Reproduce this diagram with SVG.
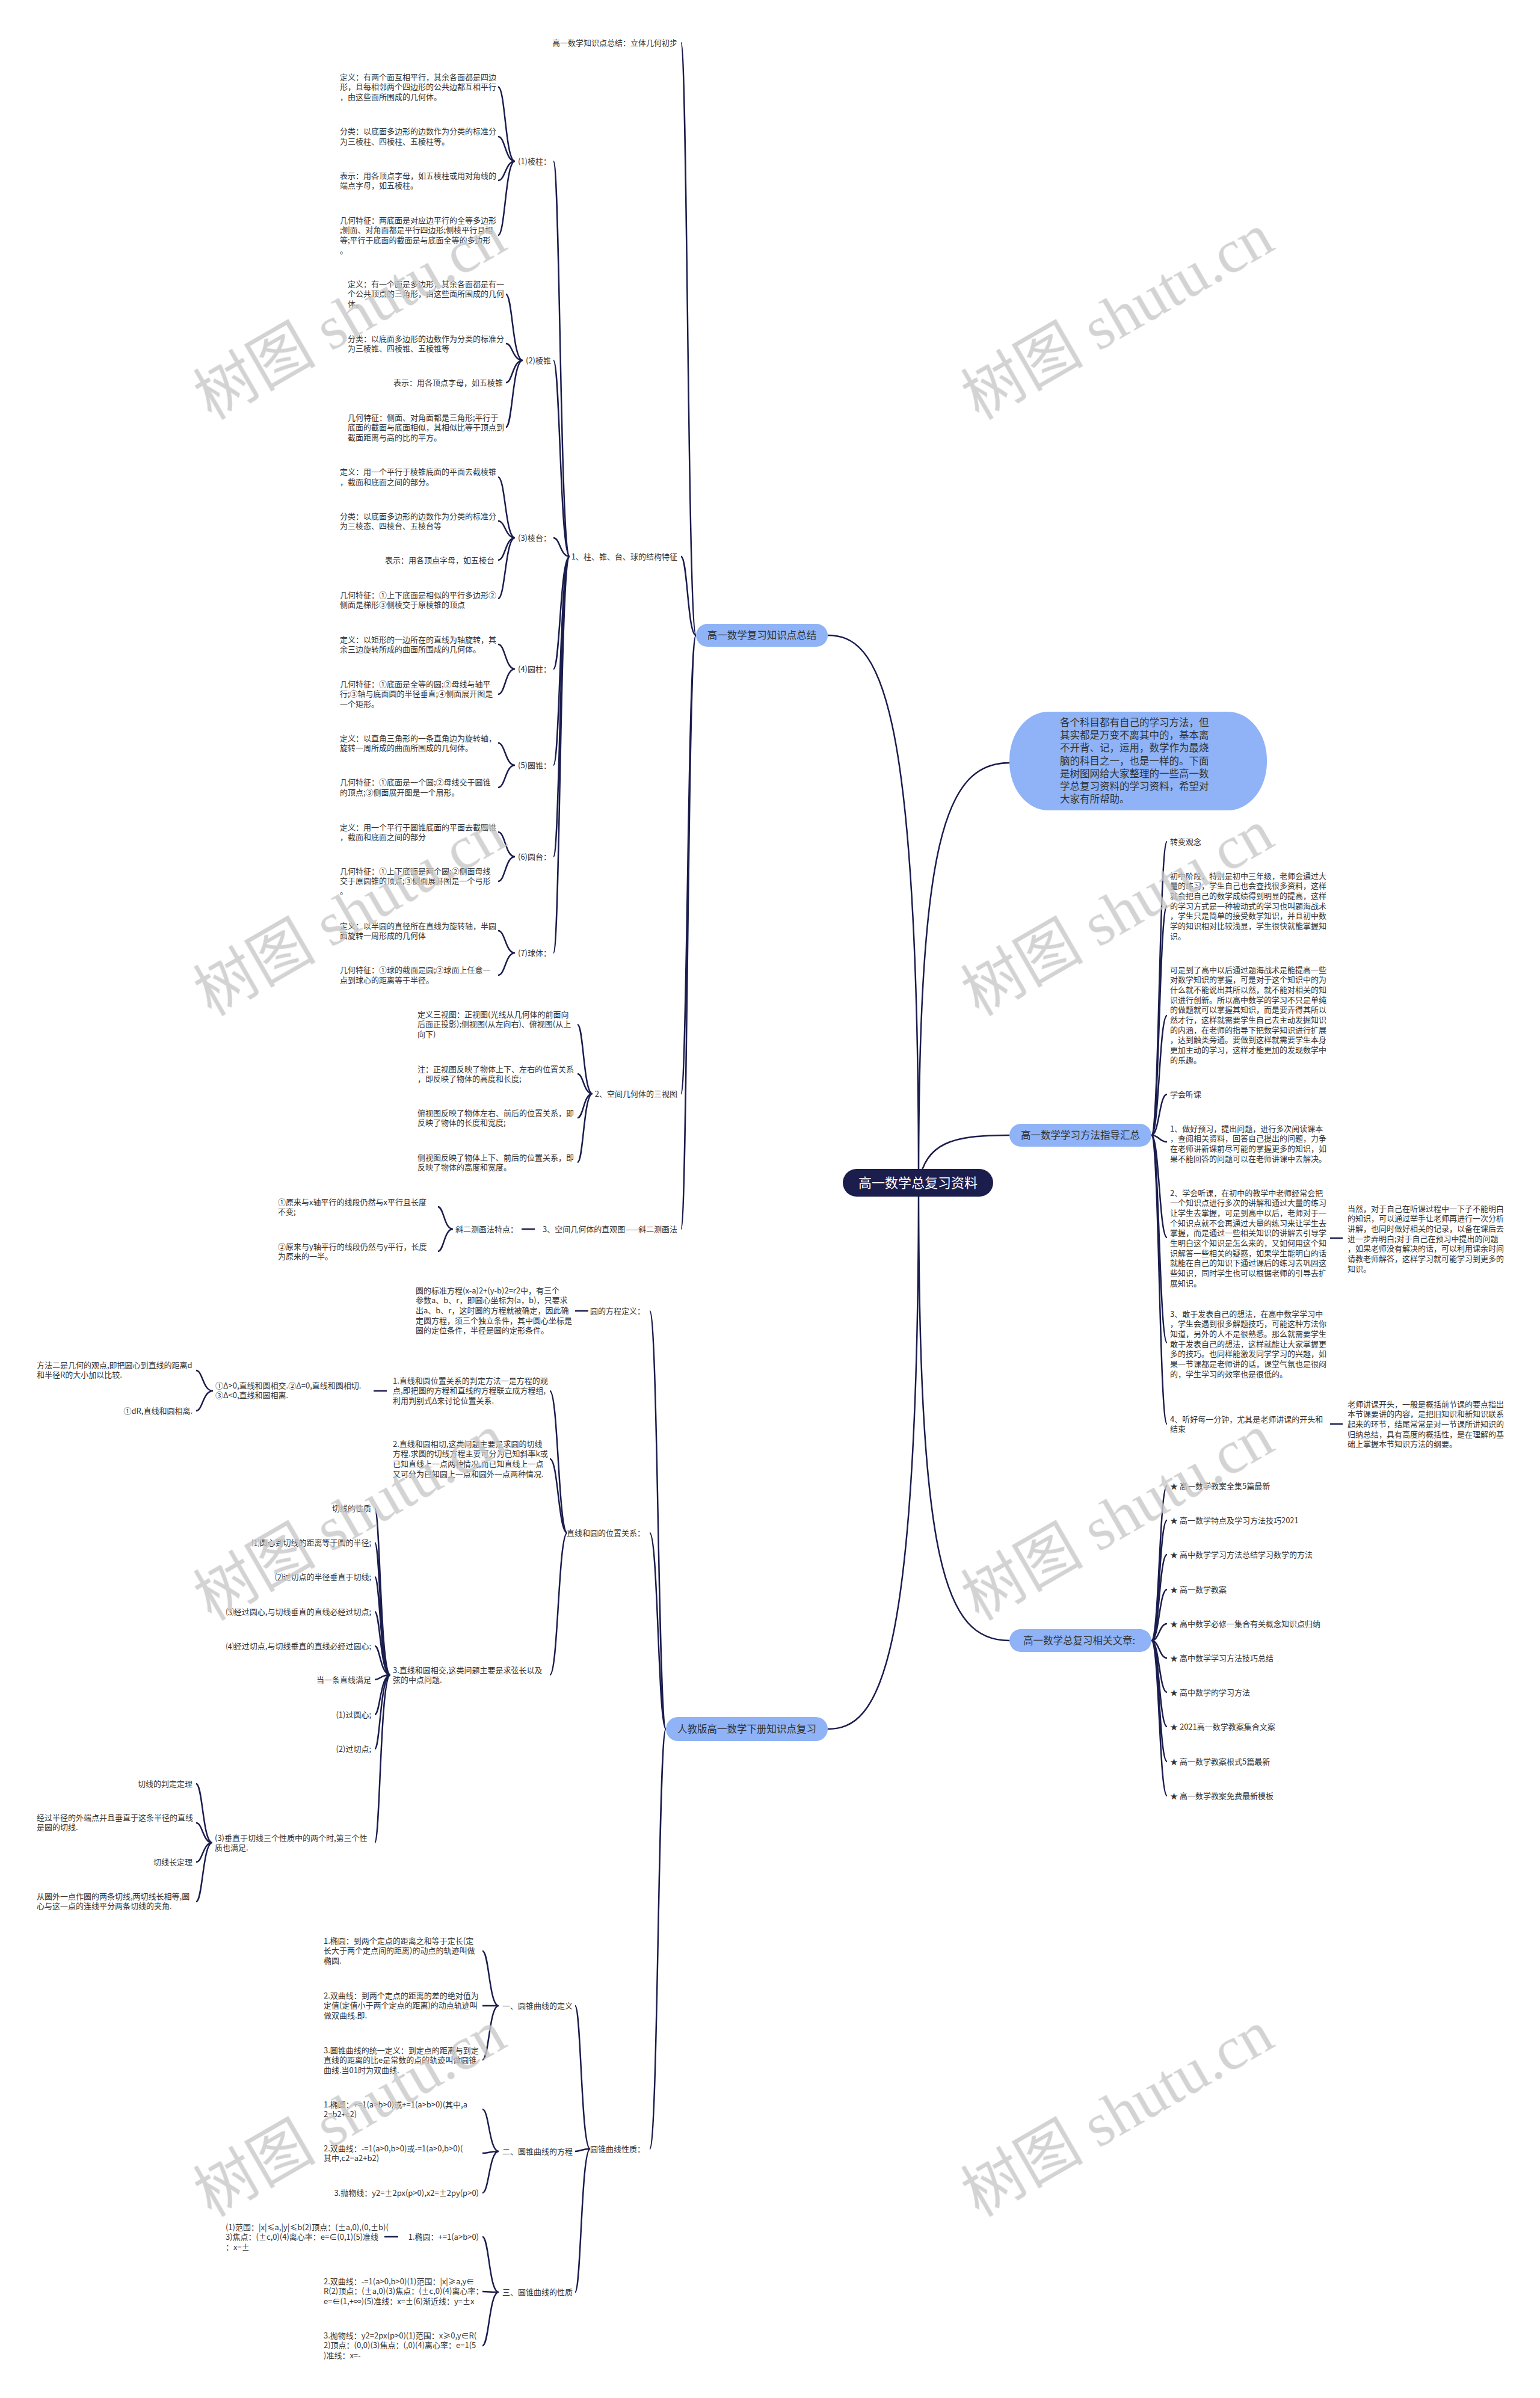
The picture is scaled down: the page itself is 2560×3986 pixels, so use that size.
<svg xmlns="http://www.w3.org/2000/svg" width="2560" height="3986" viewBox="0 0 2560 3986">
<style>
.t{font-family:"Noto Sans CJK SC","Liberation Sans",sans-serif;font-size:13px;fill:#333}
.e{text-anchor:end}
.m{text-anchor:middle}
.b{font-size:16.5px}
.c{fill:none;stroke:#1b1d4d;stroke-width:2.5}
.n{fill:#8fb3f6}
.wm{font-family:"Liberation Serif","Noto Sans CJK SC",serif;font-size:102px;fill:#c9c9c9;opacity:0.8}
</style>
<rect width="2560" height="3986" fill="#ffffff"/>
<g id="connectors" class="c">
<path d="M1527 1966C1527 1150 1460 1056 1376 1056M1527 1966C1527 2780 1460 2874 1376 2874M1527 1966C1527 1400 1570 1268 1678 1268M1527 1966C1540 1900 1580 1887 1678 1887M1527 1966C1527 2600 1570 2727 1678 2727"/>
<path d="M1157 1056C1143 1056 1143 71 1132 71M1157 1056C1143 1056 1143 925 1132 925M1157 1056C1143 1056 1143 1818 1132 1818M1157 1056C1143 1056 1143 2043 1132 2043"/>
<path d="M947 925C931 925 931 268 920 268M947 925C931 925 931 599 920 599M947 925C931 925 931 894 920 894M947 925C931 925 931 1112 920 1112M947 925C931 925 931 1272 920 1272M947 925C931 925 931 1424 920 1424M947 925C931 925 931 1584 920 1584"/>
<path d="M856 268C840 268 840 144.5 828 144.5M856 268C840 268 840 227 828 227M856 268C840 268 840 300 828 300M856 268C840 268 840 391 828 391"/>
<path d="M869 599C852 599 852 489 841 489M869 599C852 599 852 571 841 571M869 599C852 599 852 636 841 636M869 599C852 599 852 710 841 710"/>
<path d="M856 894C840 894 840 793 828 793M856 894C840 894 840 866 828 866M856 894C840 894 840 931 828 931M856 894C840 894 840 995 828 995"/>
<path d="M856 1112C840 1112 840 1071 828 1071M856 1112C840 1112 840 1154 828 1154"/>
<path d="M856 1272C840 1272 840 1235 828 1235M856 1272C840 1272 840 1309 828 1309"/>
<path d="M856 1424C840 1424 840 1383 828 1383M856 1424C840 1424 840 1465 828 1465"/>
<path d="M856 1584C840 1584 840 1547 828 1547M856 1584C840 1584 840 1621 828 1621"/>
<path d="M985 1818C970 1818 970 1703 960 1703M985 1818C970 1818 970 1785 960 1785M985 1818C970 1818 970 1858 960 1858M985 1818C970 1818 970 1932 960 1932"/>
<path d="M889 2043H867M753 2043C738 2043 738 2006 728 2006M753 2043C738 2043 738 2080 728 2080"/>
<path d="M1107 2874C1094 2874 1094 2179 1080 2179M1107 2874C1094 2874 1094 2548 1080 2548M1107 2874C1094 2874 1094 3572 1080 3572"/>
<path d="M978 2179H956"/>
<path d="M943 2548C928 2548 928 2312 914 2312M943 2548C928 2548 928 2425 914 2425M943 2548C928 2548 928 2784 914 2784"/>
<path d="M643 2312H621M354 2312C337 2312 337 2278 326 2278M354 2312C337 2312 337 2345 326 2345"/>
<path d="M649 2784C632 2784 632 2507 623 2507M649 2784C632 2784 632 2564 623 2564M649 2784C632 2784 632 2621 623 2621M649 2784C632 2784 632 2679 623 2679M649 2784C632 2784 632 2736 623 2736M649 2784C632 2784 632 2792 623 2792M649 2784C632 2784 632 2850 623 2850M649 2784C632 2784 632 2907 623 2907M649 2784C632 2784 632 3063 623 3063"/>
<path d="M353 3063C337 3063 337 2965 326 2965M353 3063C337 3063 337 3030 326 3030M353 3063C337 3063 337 3095 326 3095M353 3063C337 3063 337 3161 326 3161"/>
<path d="M981 3572C966 3572 966 3334 956 3334M981 3572C966 3572 966 3576 956 3576M981 3572C966 3572 966 3810 956 3810"/>
<path d="M829 3334C813 3334 813 3243 802 3243M829 3334C813 3334 813 3334 802 3334M829 3334C813 3334 813 3424 802 3424"/>
<path d="M829 3576C813 3576 813 3506 802 3506M829 3576C813 3576 813 3579 802 3579M829 3576C813 3576 813 3645 802 3645"/>
<path d="M829 3810C813 3810 813 3718 802 3718M829 3810C813 3810 813 3809 802 3809M829 3810C813 3810 813 3899 802 3899M662 3718H639"/>
<path d="M1914 1887C1927 1887 1927 1399 1940 1399M1914 1887C1927 1887 1927 1506 1940 1506M1914 1887C1927 1887 1927 1688 1940 1688M1914 1887C1927 1887 1927 1819 1940 1819M1914 1887C1927 1887 1927 1898 1940 1898M1914 1887C1927 1887 1927 2057 1940 2057M1914 1887C1927 1887 1927 2232 1940 2232M1914 1887C1927 1887 1927 2367 1940 2367"/>
<path d="M2211 2058H2232M2211 2367H2232"/>
<path d="M1914 2727C1927 2727 1927 2470 1940 2470M1914 2727C1927 2727 1927 2527 1940 2527M1914 2727C1927 2727 1927 2584 1940 2584M1914 2727C1927 2727 1927 2642 1940 2642M1914 2727C1927 2727 1927 2699 1940 2699M1914 2727C1927 2727 1927 2756 1940 2756M1914 2727C1927 2727 1927 2813 1940 2813M1914 2727C1927 2727 1927 2870 1940 2870M1914 2727C1927 2727 1927 2928 1940 2928M1914 2727C1927 2727 1927 2985 1940 2985"/>
</g>

<g id="root"><rect x="1401" y="1943" width="250" height="46" rx="23" fill="#1b1d4d"/><text class="t m" x="1526" y="1974" style="font-size:22px;fill:#ffffff">高一数学总复习资料</text></g>
<g id="b1"><rect class="n" x="1157" y="1037" width="219" height="38" rx="19"/><text class="t b m" x="1266.5" y="1062">高一数学复习知识点总结</text></g>
<g id="b2"><rect class="n" x="1107" y="2854" width="269" height="40" rx="20"/><text class="t b m" x="1241.5" y="2880">人教版高一数学下册知识点复习</text></g>
<g id="intro"><rect class="n" x="1678" y="1183" width="428" height="164" rx="65" ry="80"/><text class="t b" x="1762" y="1207"><tspan x="1762">各个科目都有自己的学习方法，但</tspan><tspan x="1762" dy="21.2">其实都是万变不离其中的，基本离</tspan><tspan x="1762" dy="21.2">不开背、记，运用，数学作为最烧</tspan><tspan x="1762" dy="21.2">脑的科目之一，也是一样的。下面</tspan><tspan x="1762" dy="21.2">是树图网给大家整理的一些高一数</tspan><tspan x="1762" dy="21.2">学总复习资料的学习资料，希望对</tspan><tspan x="1762" dy="21.2">大家有所帮助。</tspan></text></g>
<g id="b3"><rect class="n" x="1678" y="1868" width="236" height="38" rx="19"/><text class="t b m" x="1796" y="1893">高一数学学习方法指导汇总</text></g>
<g id="b4"><rect class="n" x="1678" y="2708" width="236" height="38" rx="19"/><text class="t b m" x="1794" y="2733">高一数学总复习相关文章:</text></g>

<g id="n1a"><text class="t e" x="1126" y="75.5">高一数学知识点总结：立体几何初步</text></g>
<g id="n1b"><text class="t e" x="1126" y="929.5">1、柱、锥、台、球的结构特征</text></g>
<g id="n1c"><text class="t e" x="1126" y="1822.5">2、空间几何体的三视图</text></g>
<g id="n1d"><text class="t e" x="1126" y="2047.5">3、空间几何体的直观图——斜二测画法</text></g>

<g id="p1"><text class="t e" x="916" y="272.5">(1)棱柱：</text></g>
<g id="p2"><text class="t e" x="916" y="603.5">(2)棱锥</text></g>
<g id="p3"><text class="t e" x="916" y="898.5">(3)棱台：</text></g>
<g id="p4"><text class="t e" x="916" y="1116.5">(4)圆柱：</text></g>
<g id="p5"><text class="t e" x="916" y="1276.5">(5)圆锥：</text></g>
<g id="p6"><text class="t e" x="916" y="1428.5">(6)圆台：</text></g>
<g id="p7"><text class="t e" x="916" y="1588.5">(7)球体：</text></g>

<g id="a1"><text class="t" x="565" y="132.5"><tspan x="565">定义：有两个面互相平行，其余各面都是四边</tspan><tspan x="565" dy="16.7">形，且每相邻两个四边形的公共边都互相平行</tspan><tspan x="565" dy="16.7">，由这些面所围成的几何体。</tspan></text></g>
<g id="a2"><text class="t" x="565" y="223"><tspan x="565">分类：以底面多边形的边数作为分类的标准分</tspan><tspan x="565" dy="16.7">为三棱柱、四棱柱、五棱柱等。</tspan></text></g>
<g id="a3"><text class="t" x="565" y="296.5"><tspan x="565">表示：用各顶点字母，如五棱柱或用对角线的</tspan><tspan x="565" dy="16.7">端点字母，如五棱柱。</tspan></text></g>
<g id="a4"><text class="t" x="565" y="370.5"><tspan x="565">几何特征：两底面是对应边平行的全等多边形</tspan><tspan x="565" dy="16.7">;侧面、对角面都是平行四边形;侧棱平行且相</tspan><tspan x="565" dy="16.7">等;平行于底面的截面是与底面全等的多边形</tspan><tspan x="565" dy="16.7">。</tspan></text></g>

<g id="c1"><text class="t" x="578" y="476.5"><tspan x="578">定义：有一个面是多边形，其余各面都是有一</tspan><tspan x="578" dy="16.7">个公共顶点的三角形，由这些面所围成的几何</tspan><tspan x="578" dy="16.7">体。</tspan></text></g>
<g id="c2"><text class="t" x="578" y="567.5"><tspan x="578">分类：以底面多边形的边数作为分类的标准分</tspan><tspan x="578" dy="16.7">为三棱锥、四棱锥、五棱锥等</tspan></text></g>
<g id="c3"><text class="t e" x="836" y="640.5">表示：用各顶点字母，如五棱锥</text></g>
<g id="c4"><text class="t" x="578" y="698.5"><tspan x="578">几何特征：侧面、对角面都是三角形;平行于</tspan><tspan x="578" dy="16.7">底面的截面与底面相似，其相似比等于顶点到</tspan><tspan x="578" dy="16.7">截面距离与高的比的平方。</tspan></text></g>

<g id="d1"><text class="t" x="565" y="789"><tspan x="565">定义：用一个平行于棱锥底面的平面去截棱锥</tspan><tspan x="565" dy="16.7">，截面和底面之间的部分。</tspan></text></g>
<g id="d2"><text class="t" x="565" y="862.5"><tspan x="565">分类：以底面多边形的边数作为分类的标准分</tspan><tspan x="565" dy="16.7">为三棱态、四棱台、五棱台等</tspan></text></g>
<g id="d3"><text class="t e" x="822" y="935.5">表示：用各顶点字母，如五棱台</text></g>
<g id="d4"><text class="t" x="565" y="993.5"><tspan x="565">几何特征：①上下底面是相似的平行多边形②</tspan><tspan x="565" dy="16.7">侧面是梯形③侧棱交于原棱锥的顶点</tspan></text></g>

<g id="e1"><text class="t" x="565" y="1067.5"><tspan x="565">定义：以矩形的一边所在的直线为轴旋转，其</tspan><tspan x="565" dy="16.7">余三边旋转所成的曲面所围成的几何体。</tspan></text></g>
<g id="e2"><text class="t" x="565" y="1141.5"><tspan x="565">几何特征：①底面是全等的圆;②母线与轴平</tspan><tspan x="565" dy="16.7">行;③轴与底面圆的半径垂直;④侧面展开图是</tspan><tspan x="565" dy="16.7">一个矩形。</tspan></text></g>
<g id="f1"><text class="t" x="565" y="1231.5"><tspan x="565">定义：以直角三角形的一条直角边为旋转轴，</tspan><tspan x="565" dy="16.7">旋转一周所成的曲面所围成的几何体。</tspan></text></g>
<g id="f2"><text class="t" x="565" y="1305"><tspan x="565">几何特征：①底面是一个圆;②母线交于圆锥</tspan><tspan x="565" dy="16.7">的顶点;③侧面展开图是一个扇形。</tspan></text></g>
<g id="g1"><text class="t" x="565" y="1379.5"><tspan x="565">定义：用一个平行于圆锥底面的平面去截圆锥</tspan><tspan x="565" dy="16.7">，截面和底面之间的部分</tspan></text></g>
<g id="g2"><text class="t" x="565" y="1452.5"><tspan x="565">几何特征：①上下底面是两个圆;②侧面母线</tspan><tspan x="565" dy="16.7">交于原圆锥的顶点;③侧面展开图是一个弓形</tspan><tspan x="565" dy="16.7">。</tspan></text></g>
<g id="h1"><text class="t" x="565" y="1543.5"><tspan x="565">定义：以半圆的直径所在直线为旋转轴，半圆</tspan><tspan x="565" dy="16.7">面旋转一周形成的几何体</tspan></text></g>
<g id="h2"><text class="t" x="565" y="1617"><tspan x="565">几何特征：①球的截面是圆;②球面上任意一</tspan><tspan x="565" dy="16.7">点到球心的距离等于半径。</tspan></text></g>

<g id="s1"><text class="t" x="694" y="1690.5"><tspan x="694">定义三视图：正视图(光线从几何体的前面向</tspan><tspan x="694" dy="16.7">后面正投影);侧视图(从左向右)、俯视图(从上</tspan><tspan x="694" dy="16.7">向下)</tspan></text></g>
<g id="s2"><text class="t" x="694" y="1781.5"><tspan x="694">注：正视图反映了物体上下、左右的位置关系</tspan><tspan x="694" dy="16.7">，即反映了物体的高度和长度;</tspan></text></g>
<g id="s3"><text class="t" x="694" y="1854.5"><tspan x="694">俯视图反映了物体左右、前后的位置关系，即</tspan><tspan x="694" dy="16.7">反映了物体的长度和宽度;</tspan></text></g>
<g id="s4"><text class="t" x="694" y="1928.5"><tspan x="694">侧视图反映了物体上下、前后的位置关系，即</tspan><tspan x="694" dy="16.7">反映了物体的高度和宽度。</tspan></text></g>

<g id="x0"><text class="t e" x="861" y="2047.5">斜二测画法特点：</text></g>
<g id="x1"><text class="t" x="462" y="2002.5"><tspan x="462">①原来与x轴平行的线段仍然与x平行且长度</tspan><tspan x="462" dy="16.7">不变;</tspan></text></g>
<g id="x2"><text class="t" x="462" y="2076.5"><tspan x="462">②原来与y轴平行的线段仍然与y平行，长度</tspan><tspan x="462" dy="16.7">为原来的一半。</tspan></text></g>

<g id="q1"><text class="t e" x="1072" y="2183.5">圆的方程定义：</text></g>
<g id="q2"><text class="t e" x="1072" y="2552.5">直线和圆的位置关系：</text></g>
<g id="q3"><text class="t e" x="1072" y="3576.5">圆锥曲线性质：</text></g>
<g id="q1a"><text class="t" x="691" y="2149.5"><tspan x="691">圆的标准方程(x-a)2+(y-b)2=r2中，有三个</tspan><tspan x="691" dy="16.7">参数a、b、r，即圆心坐标为(a，b)，只要求</tspan><tspan x="691" dy="16.7">出a、b、r，这时圆的方程就被确定，因此确</tspan><tspan x="691" dy="16.7">定圆方程，须三个独立条件，其中圆心坐标是</tspan><tspan x="691" dy="16.7">圆的定位条件，半径是圆的定形条件。</tspan></text></g>

<g id="j1"><text class="t" x="653" y="2299.5"><tspan x="653">1.直线和圆位置关系的判定方法一是方程的观</tspan><tspan x="653" dy="16.7">点,即把圆的方程和直线的方程联立成方程组,</tspan><tspan x="653" dy="16.7">利用判别式Δ来讨论位置关系.</tspan></text></g>
<g id="j2"><text class="t" x="653" y="2404.5"><tspan x="653">2.直线和圆相切,这类问题主要是求圆的切线</tspan><tspan x="653" dy="16.7">方程.求圆的切线方程主要可分为已知斜率k或</tspan><tspan x="653" dy="16.7">已知直线上一点两种情况,而已知直线上一点</tspan><tspan x="653" dy="16.7">又可分为已知圆上一点和圆外一点两种情况.</tspan></text></g>
<g id="j3"><text class="t" x="653" y="2780.5"><tspan x="653">3.直线和圆相交,这类问题主要是求弦长以及</tspan><tspan x="653" dy="16.7">弦的中点问题.</tspan></text></g>
<g id="k0"><text class="t" x="358" y="2307.5"><tspan x="358">①Δ&gt;0,直线和圆相交.②Δ=0,直线和圆相切.</tspan><tspan x="358" dy="16.7">③Δ&lt;0,直线和圆相离.</tspan></text></g>
<g id="k1"><text class="t" x="61" y="2273.5"><tspan x="61">方法二是几何的观点,即把圆心到直线的距离d</tspan><tspan x="61" dy="16.7">和半径R的大小加以比较.</tspan></text></g>
<g id="k2"><text class="t e" x="320" y="2349.5">①dR,直线和圆相离.</text></g>

<g id="l1"><text class="t e" x="617" y="2511.5">切线的性质</text></g>
<g id="l2"><text class="t e" x="617" y="2568.5">⑴圆心到切线的距离等于圆的半径;</text></g>
<g id="l3"><text class="t e" x="617" y="2625.5">⑵过切点的半径垂直于切线;</text></g>
<g id="l4"><text class="t e" x="617" y="2683.5">⑶经过圆心,与切线垂直的直线必经过切点;</text></g>
<g id="l5"><text class="t e" x="617" y="2740.5">⑷经过切点,与切线垂直的直线必经过圆心;</text></g>
<g id="l6"><text class="t e" x="617" y="2796.5">当一条直线满足</text></g>
<g id="l7"><text class="t e" x="617" y="2854.5">(1)过圆心;</text></g>
<g id="l8"><text class="t e" x="617" y="2911.5">(2)过切点;</text></g>
<g id="l9"><text class="t" x="357" y="3059.5"><tspan x="357">(3)垂直于切线三个性质中的两个时,第三个性</tspan><tspan x="357" dy="16.7">质也满足.</tspan></text></g>
<g id="m1"><text class="t e" x="320" y="2969.5">切线的判定定理</text></g>
<g id="m2"><text class="t" x="61" y="3025.5"><tspan x="61">经过半径的外端点并且垂直于这条半径的直线</tspan><tspan x="61" dy="16.7">是圆的切线.</tspan></text></g>
<g id="m3"><text class="t e" x="320" y="3099.5">切线长定理</text></g>
<g id="m4"><text class="t" x="61" y="3156.5"><tspan x="61">从圆外一点作圆的两条切线,两切线长相等,圆</tspan><tspan x="61" dy="16.7">心与这一点的连线平分两条切线的夹角.</tspan></text></g>

<g id="r1"><text class="t e" x="952" y="3338.5">一、圆锥曲线的定义</text></g>
<g id="r2"><text class="t e" x="952" y="3580.5">二、圆锥曲线的方程</text></g>
<g id="r3"><text class="t e" x="952" y="3814.5">三、圆锥曲线的性质</text></g>
<g id="u1"><text class="t" x="538" y="3230.5"><tspan x="538">1.椭圆：到两个定点的距离之和等于定长(定</tspan><tspan x="538" dy="16.7">长大于两个定点间的距离)的动点的轨迹叫做</tspan><tspan x="538" dy="16.7">椭圆.</tspan></text></g>
<g id="u2"><text class="t" x="538" y="3321.5"><tspan x="538">2.双曲线：到两个定点的距离的差的绝对值为</tspan><tspan x="538" dy="16.7">定值(定值小于两个定点的距离)的动点轨迹叫</tspan><tspan x="538" dy="16.7">做双曲线.即.</tspan></text></g>
<g id="u3"><text class="t" x="538" y="3412.5"><tspan x="538">3.圆锥曲线的统一定义：到定点的距离与到定</tspan><tspan x="538" dy="16.7">直线的距离的比e是常数的点的轨迹叫做圆锥</tspan><tspan x="538" dy="16.7">曲线.当01时为双曲线.</tspan></text></g>
<g id="v1"><text class="t" x="538" y="3502.5"><tspan x="538">1.椭圆：+=1(a&gt;b&gt;0)或+=1(a&gt;b&gt;0)(其中,a</tspan><tspan x="538" dy="16.7">2=b2+c2)</tspan></text></g>
<g id="v2"><text class="t" x="538" y="3575.5"><tspan x="538">2.双曲线：-=1(a&gt;0,b&gt;0)或-=1(a&gt;0,b&gt;0)(</tspan><tspan x="538" dy="16.7">其中,c2=a2+b2)</tspan></text></g>
<g id="v3"><text class="t e" x="796" y="3649.5">3.抛物线：y2=±2px(p&gt;0),x2=±2py(p&gt;0)</text></g>
<g id="w1"><text class="t e" x="796" y="3722.5">1.椭圆：+=1(a&gt;b&gt;0)</text></g>
<g id="w2"><text class="t" x="538" y="3796.5"><tspan x="538">2.双曲线：-=1(a&gt;0,b&gt;0)(1)范围：|x|≥a,y∈</tspan><tspan x="538" dy="16.7">R(2)顶点：(±a,0)(3)焦点：(±c,0)(4)离心率：</tspan><tspan x="538" dy="16.7">e=∈(1,+∞)(5)准线：x=±(6)渐近线：y=±x</tspan></text></g>
<g id="w3"><text class="t" x="538" y="3886.5"><tspan x="538">3.抛物线：y2=2px(p&gt;0)(1)范围：x≥0,y∈R(</tspan><tspan x="538" dy="16.7">2)顶点：(0,0)(3)焦点：(,0)(4)离心率：e=1(5</tspan><tspan x="538" dy="16.7">)准线：x=-</tspan></text></g>
<g id="w1a"><text class="t" x="375" y="3706.5"><tspan x="375">(1)范围：|x|≤a,|y|≤b(2)顶点：(±a,0),(0,±b)(</tspan><tspan x="375" dy="16.7">3)焦点：(±c,0)(4)离心率：e=∈(0,1)(5)准线</tspan><tspan x="375" dy="16.7">：x=±</tspan></text></g>

<g id="y1"><text class="t" x="1945" y="1403.5">转变观念</text></g>
<g id="y2"><text class="t" x="1945" y="1460.5"><tspan x="1945">初中阶段，特别是初中三年级，老师会通过大</tspan><tspan x="1945" dy="16.7">量的练习，学生自己也会查找很多资料，这样</tspan><tspan x="1945" dy="16.7">就会把自己的数学成绩得到明显的提高，这样</tspan><tspan x="1945" dy="16.7">的学习方式是一种被动式的学习也叫题海战术</tspan><tspan x="1945" dy="16.7">，学生只是简单的接受数学知识，并且初中数</tspan><tspan x="1945" dy="16.7">学的知识相对比较浅显，学生很快就能掌握知</tspan><tspan x="1945" dy="16.7">识。</tspan></text></g>
<g id="y3"><text class="t" x="1945" y="1616.5"><tspan x="1945">可是到了高中以后通过题海战术是能提高一些</tspan><tspan x="1945" dy="16.7">对数学知识的掌握，可是对于这个知识中的为</tspan><tspan x="1945" dy="16.7">什么就不能说出其所以然，就不能对相关的知</tspan><tspan x="1945" dy="16.7">识进行创新。所以高中数学的学习不只是单纯</tspan><tspan x="1945" dy="16.7">的做题就可以掌握其知识，而是要弄得其所以</tspan><tspan x="1945" dy="16.7">然才行，这样就需要学生自己去主动发掘知识</tspan><tspan x="1945" dy="16.7">的内涵，在老师的指导下把数学知识进行扩展</tspan><tspan x="1945" dy="16.7">，达到触类旁通。要做到这样就需要学生本身</tspan><tspan x="1945" dy="16.7">更加主动的学习，这样才能更加的发现数学中</tspan><tspan x="1945" dy="16.7">的乐趣。</tspan></text></g>
<g id="y4"><text class="t" x="1945" y="1823.5">学会听课</text></g>
<g id="y5"><text class="t" x="1945" y="1880.5"><tspan x="1945">1、做好预习，提出问题，进行多次阅读课本</tspan><tspan x="1945" dy="16.7">，查阅相关资料，回答自己提出的问题，力争</tspan><tspan x="1945" dy="16.7">在老师讲新课前尽可能的掌握更多的知识，如</tspan><tspan x="1945" dy="16.7">果不能回答的问题可以在老师讲课中去解决。</tspan></text></g>
<g id="y6"><text class="t" x="1945" y="1987.5"><tspan x="1945">2、学会听课，在初中的教学中老师经常会把</tspan><tspan x="1945" dy="16.7">一个知识点进行多次的讲解和通过大量的练习</tspan><tspan x="1945" dy="16.7">让学生去掌握，可是到高中以后，老师对于一</tspan><tspan x="1945" dy="16.7">个知识点就不会再通过大量的练习来让学生去</tspan><tspan x="1945" dy="16.7">掌握，而是通过一些相关知识的讲解去引导学</tspan><tspan x="1945" dy="16.7">生明白这个知识是怎么来的，又如何用这个知</tspan><tspan x="1945" dy="16.7">识解答一些相关的疑惑，如果学生能明白的话</tspan><tspan x="1945" dy="16.7">就能在自己的知识下通过课后的练习去巩固这</tspan><tspan x="1945" dy="16.7">些知识，同时学生也可以根据老师的引导去扩</tspan><tspan x="1945" dy="16.7">展知识。</tspan></text></g>
<g id="y6a"><text class="t" x="2240" y="2013.5"><tspan x="2240">当然，对于自己在听课过程中一下子不能明白</tspan><tspan x="2240" dy="16.7">的知识，可以通过举手让老师再进行一次分析</tspan><tspan x="2240" dy="16.7">讲解，也同时做好相关的记录，以备在课后去</tspan><tspan x="2240" dy="16.7">进一步弄明白;对于自己在预习中提出的问题</tspan><tspan x="2240" dy="16.7">，如果老师没有解决的话，可以利用课余时间</tspan><tspan x="2240" dy="16.7">请教老师解答，这样学习就可能学习到更多的</tspan><tspan x="2240" dy="16.7">知识。</tspan></text></g>
<g id="y7"><text class="t" x="1945" y="2188.5"><tspan x="1945">3、敢于发表自己的想法，在高中数学学习中</tspan><tspan x="1945" dy="16.7">，学生会遇到很多解题技巧，可能这种方法你</tspan><tspan x="1945" dy="16.7">知道，另外的人不是很熟悉。那么就需要学生</tspan><tspan x="1945" dy="16.7">敢于发表自己的想法，这样就能让大家掌握更</tspan><tspan x="1945" dy="16.7">多的技巧。也同样能激发同学学习的兴趣，如</tspan><tspan x="1945" dy="16.7">果一节课都是老师讲的话，课堂气氛也是很闷</tspan><tspan x="1945" dy="16.7">的，学生学习的效率也是很低的。</tspan></text></g>
<g id="y8"><text class="t" x="1945" y="2363.5"><tspan x="1945">4、听好每一分钟，尤其是老师讲课的开头和</tspan><tspan x="1945" dy="16.7">结束</tspan></text></g>
<g id="y8a"><text class="t" x="2240" y="2338.5"><tspan x="2240">老师讲课开头，一般是概括前节课的要点指出</tspan><tspan x="2240" dy="16.7">本节课要讲的内容，是把旧知识和新知识联系</tspan><tspan x="2240" dy="16.7">起来的环节，结尾常常是对一节课所讲知识的</tspan><tspan x="2240" dy="16.7">归纳总结，具有高度的概括性，是在理解的基</tspan><tspan x="2240" dy="16.7">础上掌握本节知识方法的纲要。</tspan></text></g>

<g id="z1"><text class="t" x="1945" y="2474.5">★ 高一数学教案全集5篇最新</text></g>
<g id="z2"><text class="t" x="1945" y="2531.5">★ 高一数学特点及学习方法技巧2021</text></g>
<g id="z3"><text class="t" x="1945" y="2588.5">★ 高中数学学习方法总结学习数学的方法</text></g>
<g id="z4"><text class="t" x="1945" y="2646.5">★ 高一数学教案</text></g>
<g id="z5"><text class="t" x="1945" y="2703.5">★ 高中数学必修一集合有关概念知识点归纳</text></g>
<g id="z6"><text class="t" x="1945" y="2760.5">★ 高中数学学习方法技巧总结</text></g>
<g id="z7"><text class="t" x="1945" y="2817.5">★ 高中数学的学习方法</text></g>
<g id="z8"><text class="t" x="1945" y="2874.5">★ 2021高一数学教案集合文案</text></g>
<g id="z9"><text class="t" x="1945" y="2932.5">★ 高一数学教案根式5篇最新</text></g>
<g id="z10"><text class="t" x="1945" y="2989.5">★ 高一数学教案免费最新模板</text></g>

<g id="watermarks" class="wm">
<text x="351" y="699" transform="rotate(-30 351 699)">树图 shutu.cn</text>
<text x="351" y="1690" transform="rotate(-30 351 1690)">树图 shutu.cn</text>
<text x="351" y="2695" transform="rotate(-30 351 2695)">树图 shutu.cn</text>
<text x="351" y="3686" transform="rotate(-30 351 3686)">树图 shutu.cn</text>
<text x="1627" y="699" transform="rotate(-30 1627 699)">树图 shutu.cn</text>
<text x="1627" y="1690" transform="rotate(-30 1627 1690)">树图 shutu.cn</text>
<text x="1627" y="2695" transform="rotate(-30 1627 2695)">树图 shutu.cn</text>
<text x="1627" y="3686" transform="rotate(-30 1627 3686)">树图 shutu.cn</text>
</g>
</svg>
